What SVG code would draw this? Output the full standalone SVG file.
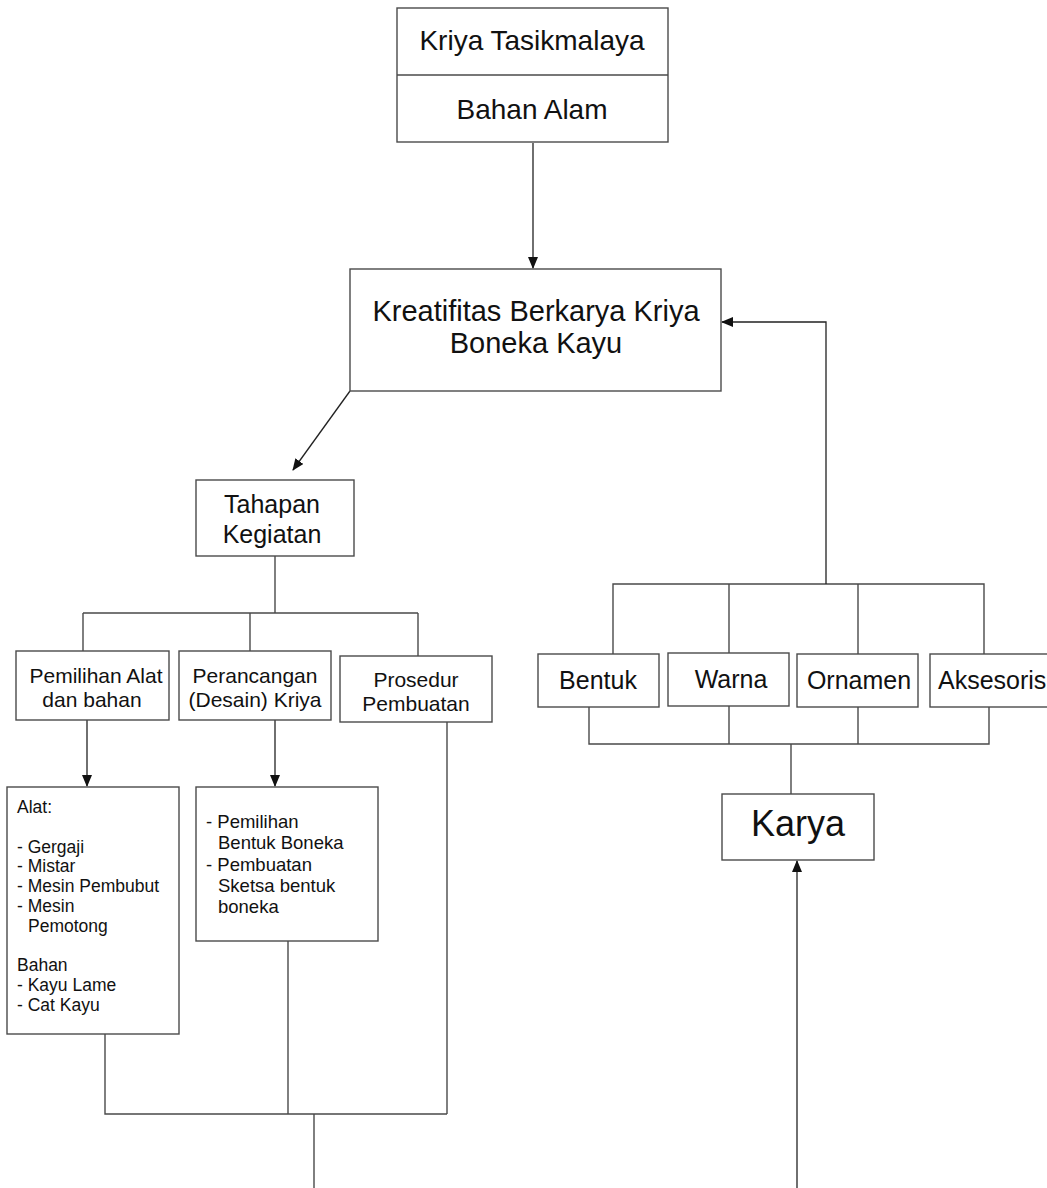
<svg xmlns="http://www.w3.org/2000/svg" width="1047" height="1188" viewBox="0 0 1047 1188">
<defs>
<style>
.box{fill:#fff;stroke:#4a4a4a;stroke-width:1.4}
.ln{fill:none;stroke:#4a4a4a;stroke-width:1.4}
.ar{fill:none;stroke:#222;stroke-width:1.3;marker-end:url(#ah)}
text{font-family:"Liberation Sans",Arial,sans-serif;fill:#111}
.c{text-anchor:middle}
</style>
<marker id="ah" markerWidth="12" markerHeight="10" refX="11" refY="5" orient="auto" markerUnits="userSpaceOnUse">
<path d="M0,0 L12,5 L0,10 Z" fill="#111"/>
</marker>
</defs>
<rect width="1047" height="1188" fill="#fff"/>
<g id="connectors">
<path class="ar" d="M533,143 V268"/>
<path class="ar" d="M350,391 L293,470"/>
<path class="ln" d="M275,556 V613 M83,613 H418 M83,613 V651 M250,613 V651 M418,613 V656"/>
<path class="ar" d="M87,720 V786"/>
<path class="ar" d="M275,720 V786"/>
<path class="ln" d="M447,722 V1114 M105,1034 V1114 H447 M288,941 V1114 M314,1114 V1188"/>
<path class="ln" d="M613,654 V584 H984 V654 M729,584 V653 M858,584 V654"/>
<path class="ar" d="M826,584 V322 H722"/>
<path class="ln" d="M589,707 V744 H989 V707 M729,706 V744 M858,707 V744 M791,744 V794"/>
<path class="ar" d="M797,1188 V861"/>
</g>
<g id="n-top">
<rect class="box" x="397" y="8" width="271" height="134"/>
<line class="ln" x1="397" y1="75" x2="668" y2="75"/>
<text class="c" x="532" y="50" font-size="28">Kriya Tasikmalaya</text>
<text class="c" x="532" y="119" font-size="28">Bahan Alam</text>
</g>
<g id="n-kreatifitas">
<rect class="box" x="350" y="269" width="371" height="122"/>
<text class="c" x="536" y="321" font-size="29">Kreatifitas Berkarya Kriya</text>
<text class="c" x="536" y="353" font-size="29">Boneka Kayu</text>
</g>
<g id="n-tahapan">
<rect class="box" x="196" y="480" width="158" height="76"/>
<text class="c" x="272" y="513" font-size="25">Tahapan</text>
<text class="c" x="272" y="543" font-size="25">Kegiatan</text>
</g>
<g id="n-pemilihan">
<rect class="box" x="16" y="651" width="153" height="69"/>
<text class="c" x="96" y="683" font-size="21">Pemilihan Alat</text>
<text class="c" x="92" y="707" font-size="21">dan bahan</text>
</g>
<g id="n-perancangan">
<rect class="box" x="179" y="651" width="152" height="69"/>
<text class="c" x="255" y="683" font-size="21">Perancangan</text>
<text class="c" x="255" y="707" font-size="21">(Desain) Kriya</text>
</g>
<g id="n-prosedur">
<rect class="box" x="340" y="656" width="152" height="66"/>
<text class="c" x="416" y="687" font-size="21">Prosedur</text>
<text class="c" x="416" y="711" font-size="21">Pembuatan</text>
</g>
<g id="n-alat">
<rect class="box" x="7" y="787" width="172" height="247"/>
<g font-size="17.5">
<text x="17" y="813">Alat:</text>
<text x="17" y="853">- Gergaji</text>
<text x="17" y="872">- Mistar</text>
<text x="17" y="892">- Mesin Pembubut</text>
<text x="17" y="912">- Mesin</text>
<text x="28" y="932">Pemotong</text>
<text x="17" y="971">Bahan</text>
<text x="17" y="991">- Kayu Lame</text>
<text x="17" y="1011">- Cat Kayu</text>
</g>
</g>
<g id="n-desain">
<rect class="box" x="196" y="787" width="182" height="154"/>
<g font-size="18.5">
<text x="206" y="828">- Pemilihan</text>
<text x="218" y="849">Bentuk Boneka</text>
<text x="206" y="871">- Pembuatan</text>
<text x="218" y="892">Sketsa bentuk</text>
<text x="218" y="913">boneka</text>
</g>
</g>
<g id="n-bentuk">
<rect class="box" x="538" y="654" width="121" height="53"/>
<text class="c" x="598" y="689" font-size="25">Bentuk</text>
</g>
<g id="n-warna">
<rect class="box" x="668" y="653" width="121" height="53"/>
<text class="c" x="731" y="688" font-size="25">Warna</text>
</g>
<g id="n-ornamen">
<rect class="box" x="797" y="654" width="121" height="53"/>
<text class="c" x="859" y="689" font-size="25">Ornamen</text>
</g>
<g id="n-aksesoris">
<rect class="box" x="930" y="654" width="130" height="53"/>
<text x="938" y="689" font-size="25">Aksesoris</text>
</g>
<g id="n-karya">
<rect class="box" x="722" y="794" width="152" height="66"/>
<text class="c" x="798" y="836" font-size="36">Karya</text>
</g>
</svg>
